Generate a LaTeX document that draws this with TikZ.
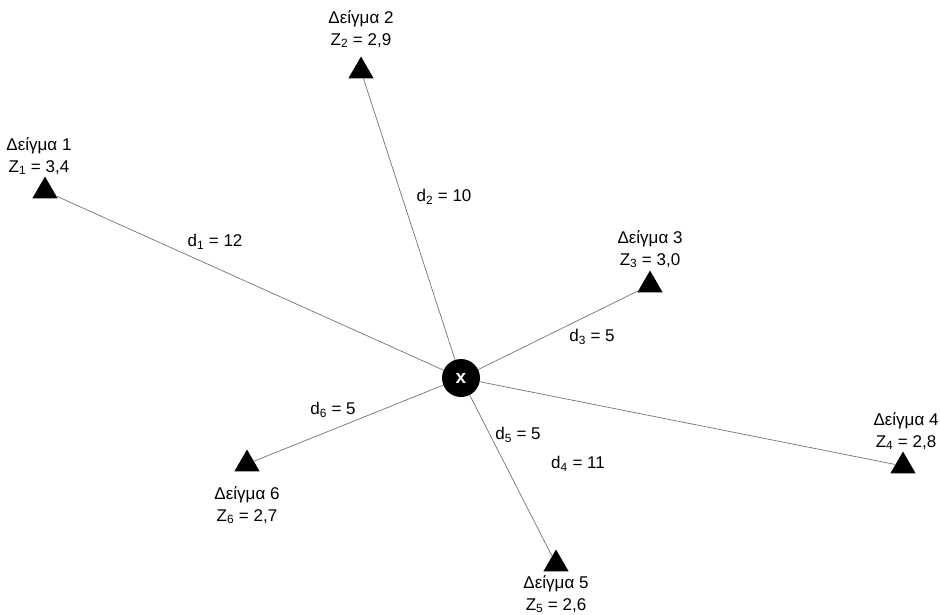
\documentclass[tikz,border=0pt]{standalone}
\usepackage{fontspec}
\setmainfont{Liberation Sans}
\usetikzlibrary{shapes.geometric}
\begin{document}
\begin{tikzpicture}[x=1pt,y=-1pt,
  every node/.style={font=\fontsize{17}{22}\selectfont},
  sample/.style={regular polygon, regular polygon sides=3, fill=black, minimum size=29pt, inner sep=0pt},
  lbl/.style={align=center, inner sep=0pt},
  dist/.style={inner sep=0pt},
  conn/.style={draw=black!55, line width=0.7pt}]
\useasboundingbox (0,0) rectangle (940,614);
\node[circle, fill=black, minimum size=38pt, inner sep=0pt, text=white, font=\fontsize{19}{19}\selectfont\bfseries] (x) at (461,378) {x};
\node[sample] (t1) at (45,191) {};
\node[sample] (t2) at (361,71) {};
\node[sample] (t3) at (650,285) {};
\node[sample] (t4) at (903,466) {};
\node[sample] (t5) at (556,564) {};
\node[sample] (t6) at (247,464) {};
\foreach \t in {t1,t2,t3,t4,t5,t6} \draw[conn] (x) -- (\t);
\node[lbl] (l1) at (39,156) {Δείγμα 1\\Z\textsubscript{1} = 3,4};
\node[lbl] (l2) at (361,29) {Δείγμα 2\\Z\textsubscript{2} = 2,9};
\node[lbl] (l3) at (650,249) {Δείγμα 3\\Z\textsubscript{3} = 3,0};
\node[lbl] (l4) at (906,431) {Δείγμα 4\\Z\textsubscript{4} = 2,8};
\node[lbl] (l5) at (556,594) {Δείγμα 5\\Z\textsubscript{5} = 2,6};
\node[lbl] (l6) at (247,505) {Δείγμα 6\\Z\textsubscript{6} = 2,7};
\node[dist] (d1) at (215,242) {d\textsubscript{1} = 12};
\node[dist] (d2) at (444,197) {d\textsubscript{2} = 10};
\node[dist] (d3) at (592,337) {d\textsubscript{3} = 5};
\node[dist] (d4) at (578,464) {d\textsubscript{4} = 11};
\node[dist] (d5) at (518,435) {d\textsubscript{5} = 5};
\node[dist] (d6) at (333,410) {d\textsubscript{6} = 5};
\end{tikzpicture}
\end{document}
